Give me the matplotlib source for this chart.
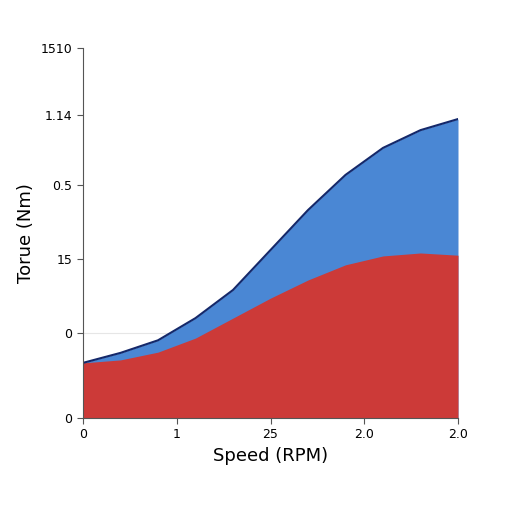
import matplotlib
matplotlib.use("Agg")
import matplotlib.pyplot as plt

# Speed fraction of the axis and torque values
speed = [0.0, 0.1, 0.2, 0.3, 0.4, 0.5, 0.6, 0.7, 0.8, 0.9, 1.0]
torque_total = [0.149, 0.176, 0.21, 0.27, 0.346, 0.454, 0.562, 0.657, 0.73, 0.778, 0.808]
torque_base = [0.149, 0.157, 0.178, 0.216, 0.27, 0.324, 0.373, 0.414, 0.438, 0.446, 0.44]

x_ticks = [0.0, 0.25, 0.5, 0.75, 1.0]
x_labels = ["0", "1", "25", "2.0", "2.0"]
y_ticks = [0.0, 0.23, 0.43, 0.63, 0.82, 1.0]
y_labels = ["0", "0", "15", "0.5", "1.14", "1510"]

fig = plt.figure(figsize=(5.12, 5.12), dpi=100)
ax = fig.add_axes([83 / 512, 94 / 512, 375 / 512, 370 / 512])

ax.fill_between(speed, 0, torque_total, color="#4a87d4", linewidth=0)
ax.fill_between(speed, 0, torque_base, color="#cc3a38", linewidth=0)
ax.plot(speed, torque_total, color="#14286a", linewidth=1.5)
ax.axhline(0.23, color="#e6e6e6", linewidth=0.8, zorder=0)

ax.set_xlim(0, 1)
ax.set_ylim(0, 1)
ax.set_xticks(x_ticks)
ax.set_xticklabels(x_labels)
ax.set_yticks(y_ticks)
ax.set_yticklabels(y_labels)
ax.tick_params(labelsize=9, length=4, color="#555555")
for s in ("top", "right"):
    ax.spines[s].set_visible(False)
for s in ("left", "bottom"):
    ax.spines[s].set_color("#555555")

ax.set_xlabel("Speed (RPM)", fontsize=13)
ax.set_ylabel("Torue (Nm)", fontsize=13)

fig.savefig("out.png", dpi=100, facecolor="white")
